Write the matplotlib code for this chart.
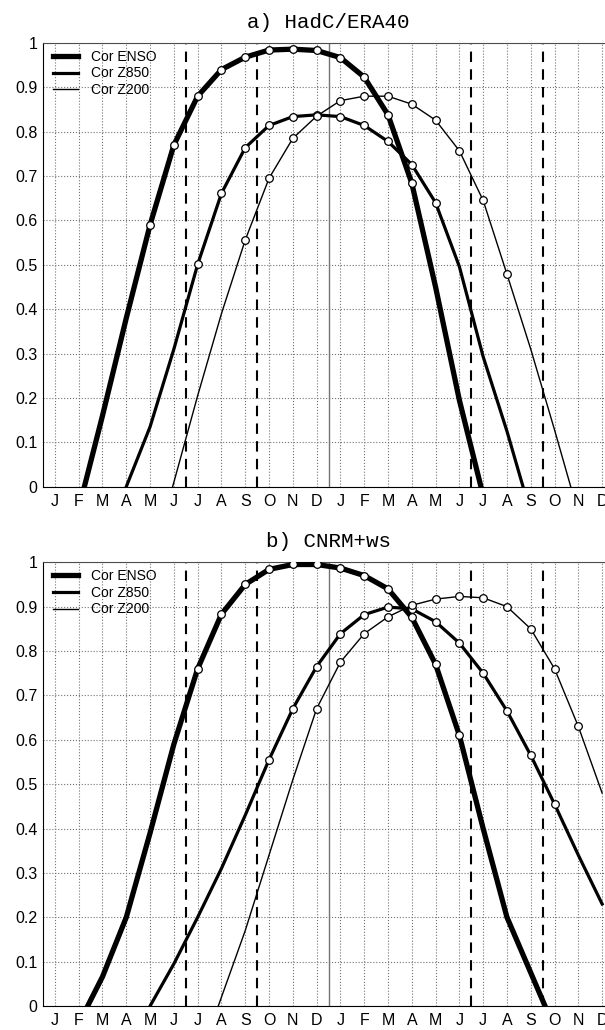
"""Lagged correlation curves for ENSO, Z850 and Z200 (two datasets)"""

import numpy as np
import matplotlib
matplotlib.use("Agg")
import matplotlib.pyplot as plt

months = list("JFMAMJJASOND") * 2

# a) HadC/ERA40
enso_a = [-0.25, -0.05, 0.16, 0.38, 0.59, 0.77, 0.88, 0.94, 0.968, 0.984, 0.986, 0.983,
          0.967, 0.923, 0.838, 0.684, 0.45, 0.195, -0.02, -0.2, -0.35, -0.45, -0.5, -0.5]
z850_a = [-0.4, -0.3, -0.15, 0.0, 0.135, 0.31, 0.501, 0.661, 0.764, 0.814, 0.834, 0.838,
          0.834, 0.814, 0.778, 0.726, 0.64, 0.496, 0.293, 0.125, -0.06, -0.25, -0.35, -0.4]
z200_a = [-0.5, -0.45, -0.4, -0.3, -0.18, 0.01, 0.205, 0.39, 0.556, 0.695, 0.785, 0.835,
          0.87, 0.88, 0.88, 0.862, 0.826, 0.757, 0.645, 0.479, 0.31, 0.128, -0.06, -0.2]

# b) CNRM+ws
enso_b = [-0.2, -0.04, 0.066, 0.2, 0.39, 0.59, 0.76, 0.883, 0.95, 0.984, 0.995, 0.995,
          0.987, 0.97, 0.94, 0.876, 0.77, 0.61, 0.40, 0.2, 0.075, -0.05, -0.2, -0.3]
z850_b = [-0.5, -0.4, -0.3, -0.12, 0.0, 0.095, 0.2, 0.31, 0.43, 0.555, 0.67, 0.765,
          0.839, 0.882, 0.899, 0.895, 0.866, 0.818, 0.75, 0.665, 0.565, 0.455, 0.34, 0.23]
z200_b = [-0.6, -0.6, -0.55, -0.5, -0.4, -0.3, -0.13, 0.02, 0.17, 0.34, 0.51, 0.67,
          0.775, 0.839, 0.877, 0.903, 0.917, 0.923, 0.92, 0.90, 0.85, 0.76, 0.63, 0.48]

# first and last month index drawn with a circle
marked_a = [(4, 15), (6, 16), (8, 19)]
marked_b = [(6, 17), (9, 21), (11, 22)]

season_bounds = [5.5, 8.5, 17.5, 20.5]
year_bound = 11.5

labels = ["Cor ENSO", "Cor Z850", "Cor Z200"]
widths = [3.8, 2.3, 1.0]


def plot_panel(ax, title, series, marked):
    """Draw one correlation panel"""
    x = np.arange(len(months))
    ax.set_xlim(-0.5, 23.5)
    ax.set_ylim(0, 1)
    ax.set_xticks(x)
    ax.set_xticklabels(months)
    yt = np.round(np.arange(0, 1.01, 0.1), 1)
    ax.set_yticks(yt)
    ax.set_yticklabels(["%g" % v for v in yt])
    ax.tick_params(axis="x", length=0, pad=5, labelsize=11.5)
    ax.tick_params(axis="y", length=0, pad=4, labelsize=11.5)
    ax.grid(ls=":", color="0.45", lw=0.8)

    for xb in season_bounds:
        ax.axvline(xb, color="k", lw=1.5, ls=(0, (5, 3.5)), zorder=2)
    ax.axvline(year_bound, color="0.45", lw=1.0, zorder=2)

    for y, lw, label, (i0, i1) in zip(series, widths, labels, marked):
        y = np.asarray(y)
        ax.plot(x, y, color="k", lw=lw, label=label, zorder=3,
                solid_joinstyle="round")
        ax.plot(x[i0:i1 + 1], y[i0:i1 + 1], "o", mfc="w", mec="k",
                ms=5.5, mew=0.9, zorder=4)

    ax.legend(loc="upper left", bbox_to_anchor=(0.018, 0.985), frameon=False,
              fontsize=10, handlelength=1.8, handletextpad=0.9,
              labelspacing=0.2, borderpad=0, borderaxespad=0)
    ax.spines["top"].set_color("0.3")
    ax.set_title(title, family="Liberation Mono", fontsize=15, pad=11)


def main():
    plt.rcParams["font.family"] = ["Liberation Sans", "DejaVu Sans"]
    fig = plt.figure(figsize=(6.05, 10.30), dpi=100)

    ax1 = fig.add_axes([0.0711, 0.5275, 0.9438, 0.4308])
    plot_panel(ax1, "a) HadC/ERA40", [enso_a, z850_a, z200_a], marked_a)

    ax2 = fig.add_axes([0.0711, 0.0233, 0.9438, 0.4308])
    plot_panel(ax2, "b) CNRM+ws", [enso_b, z850_b, z200_b], marked_b)

    fig.savefig("out.png", dpi=100)


if __name__ == "__main__":
    main()
